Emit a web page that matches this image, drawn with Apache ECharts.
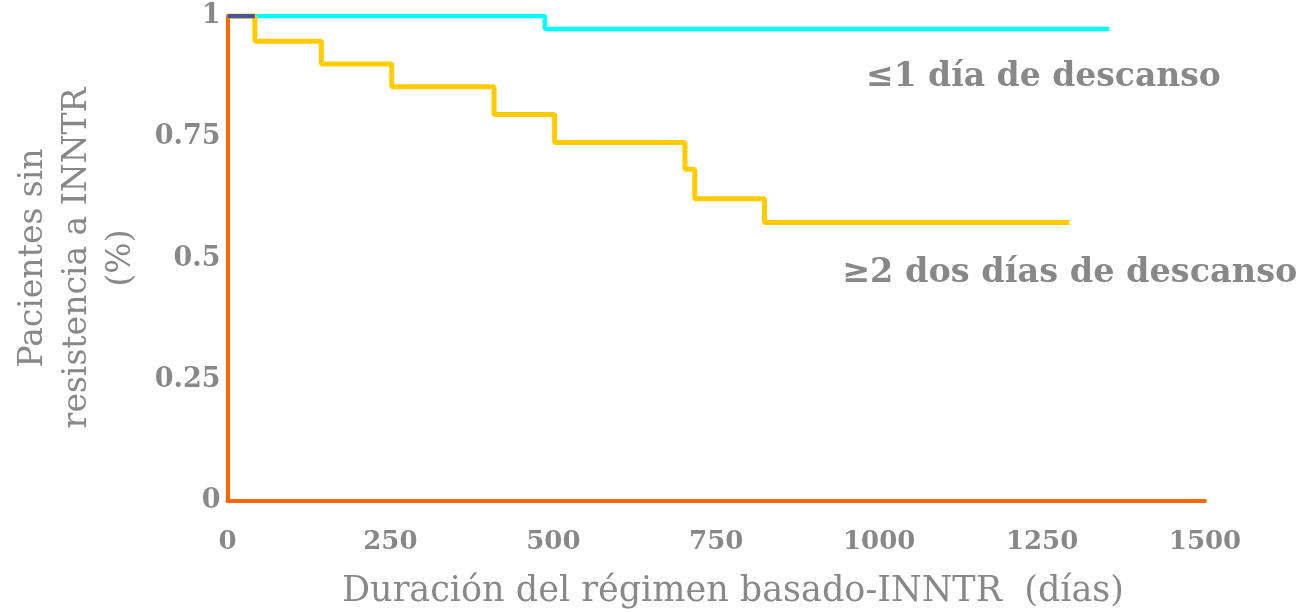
<!DOCTYPE html>
<html>
<head>
<meta charset="utf-8">
<script src="https://cdn.jsdelivr.net/npm/echarts@6/dist/echarts.min.js"></script>
<style>html,body{margin:0;padding:0;background:#fff}#c{width:1309px;height:613px}</style>
</head>
<body>
<div id="c"></div>
<script>
// Data (days, survival fraction)
const xTicks = [0, 250, 500, 750, 1000, 1250, 1500];
const yTicks = [0, 0.25, 0.5, 0.75, 1];
const restLE1Days = [0, 487, 1353];
const restLE1Surv = [1, 0.973, 0.973];
const restGE2Days = [0, 42, 144, 252, 409, 502, 702, 717, 824, 1292];
const restGE2Surv = [1, 0.948, 0.901, 0.854, 0.797, 0.739, 0.684, 0.623, 0.574, 0.574];
const overlapDays = [0, 42];
const overlapSurv = [1, 1];
const labelLE1 = '≤1 día de descanso';
const labelGE2 = '≥2 dos días de descanso';
const xTitle = 'Duración del régimen basado-INNTR  (días)';
const yTitleLines = ['Pacientes sin', 'resistencia a INNTR', '(%)'];

const zip = (a, b) => a.map((v, i) => [v, b[i]]);
const gray = '#888888';
const serif = '"DejaVu Serif", "Liberation Serif", serif';

const chart = echarts.init(document.getElementById('c'), null, {renderer: 'canvas'});
chart.setOption({
  animation: false,
  backgroundColor: '#fff',
  grid: {left: 227.5, right: 104, top: 16, bottom: 112, containLabel: false, outerBoundsMode: 'none'},
  xAxis: {
    type: 'value', min: 0, max: 1500, interval: 250,
    axisLine: {show: true, lineStyle: {color: '#FF6600', width: 4}},
    axisTick: {show: false},
    splitLine: {show: false},
    axisLabel: {color: gray, fontFamily: serif, fontWeight: 'bold', fontSize: 26, margin: 28,
      formatter: v => xTicks.includes(v) ? String(v) : ''}
  },
  yAxis: {
    type: 'value', min: 0, max: 1, interval: 0.25,
    axisLine: {show: true, lineStyle: {color: '#FF6600', width: 4}},
    axisTick: {show: false},
    splitLine: {show: false},
    axisLabel: {color: gray, fontFamily: serif, fontWeight: 'bold', fontSize: 27, margin: 7,
      formatter: v => yTicks.includes(v) ? String(v) : ''}
  },
  graphic: [
    {type: 'text', left: 866, top: 61, style: {text: labelLE1, fill: gray, font: 'bold 33px ' + serif}},
    {type: 'text', left: 842, top: 256, style: {text: labelGE2, fill: gray, font: 'bold 33.5px ' + serif}},
    {type: 'text', x: 733, y: 592,
      style: {text: xTitle, fill: gray, font: '35px ' + serif, align: 'center', verticalAlign: 'middle'}},
    {type: 'text', x: 77, y: 258, rotation: Math.PI / 2,
      style: {text: yTitleLines.join('\n'), fill: gray, font: '33px ' + serif, align: 'center', verticalAlign: 'middle', lineHeight: 44}}
  ],
  series: [
    {type: 'line', data: zip(restLE1Days, restLE1Surv), step: 'end', showSymbol: false,
      lineStyle: {color: '#00FFFF', width: 4.5}, z: 3},
    {type: 'line', data: zip(restGE2Days, restGE2Surv), step: 'end', showSymbol: false,
      lineStyle: {color: '#FFCC00', width: 5}, z: 4},
    {type: 'line', data: zip(overlapDays, overlapSurv), showSymbol: false,
      lineStyle: {color: '#4F5490', width: 4.5}, z: 5}
  ]
});
</script>
</body>
</html>
